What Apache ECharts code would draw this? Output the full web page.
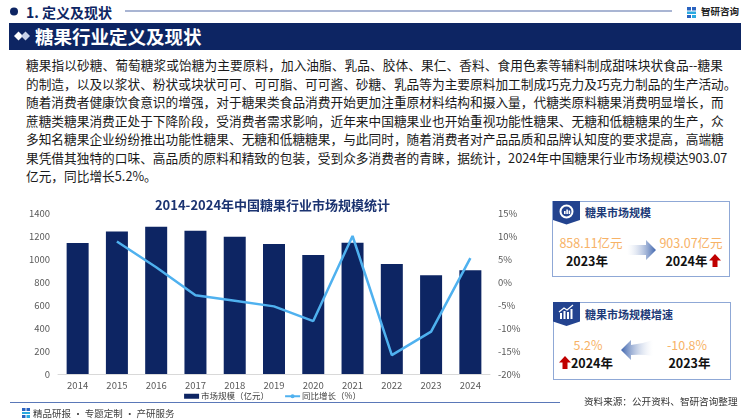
<!DOCTYPE html>
<html><head><meta charset="utf-8">
<script src="https://cdn.jsdelivr.net/npm/echarts@6/dist/echarts.min.js"></script>
<style>
html,body{margin:0;padding:0;background:#fff;}
body{width:750px;height:420px;position:relative;overflow:hidden;font-family:"Noto Sans CJK SC","Noto Sans",sans-serif;}
.abs{position:absolute;white-space:nowrap;}
.line{position:absolute;left:26px;width:697px;font-size:12.7px;color:#1a1a1a;white-space:nowrap;text-align:justify;text-align-last:justify;line-height:18px;}
.line.last{text-align-last:left;}
.box{position:absolute;border:1px solid #8fa8d6;background:#fff;}
.ptitle{position:absolute;font-size:11px;font-weight:bold;color:#203a78;}
.num{position:absolute;font-size:12.5px;color:#f7b266;transform:translateX(-50%);white-space:nowrap;line-height:14px;}
.yr{position:absolute;font-size:12.5px;font-weight:bold;color:#111;transform:translateX(-50%);white-space:nowrap;line-height:14px;}
</style></head>
<body>
<!-- header -->
<svg class="abs" style="left:0;top:0" width="750" height="60">
  <circle cx="14" cy="11.5" r="4" fill="#0d2563"/>
  <line x1="125" y1="11" x2="672" y2="11" stroke="#8d9cc5" stroke-width="1.6"/>
  <rect x="687" y="7" width="4" height="3.5" fill="#2a63c0"/>
  <rect x="692" y="7" width="4" height="3.5" fill="#2a63c0"/>
  <rect x="687" y="11.5" width="9" height="2.5" fill="#2aa9e0"/>
  <rect x="687" y="15" width="4" height="3" fill="#2a63c0"/>
  <rect x="692" y="15" width="4" height="3" fill="#2aa9e0"/>
  <rect x="9" y="23" width="732" height="27" fill="#0d2563"/>
  <path d="M14 36 L18.5 31.5 L23 36 L18.5 40.5 Z" fill="#fff"/>
  <path d="M21 36 L25.5 31.5 L30 36 L25.5 40.5 Z" fill="#c9d3ea"/>
</svg>
<div class="abs" style="left:26px;top:2px;font-size:14px;font-weight:bold;color:#0d2563;line-height:20px;">1. 定义及现状</div>
<div class="abs" style="left:701px;top:4px;font-size:9.5px;font-weight:bold;color:#222;line-height:14px;">智研咨询</div>
<div class="abs" style="left:35px;top:24px;font-size:18.5px;font-weight:bold;color:#fff;line-height:25px;">糖果行业定义及现状</div>

<!-- body text -->
<div class="line" style="top:56px">糖果指以砂糖、葡萄糖浆或饴糖为主要原料，加入油脂、乳品、胶体、果仁、香料、食用色素等辅料制成甜味块状食品--糖果</div>
<div class="line" style="top:74.5px">的制造，以及以浆状、粉状或块状可可、可可脂、可可酱、砂糖、乳品等为主要原料加工制成巧克力及巧克力制品的生产活动。</div>
<div class="line" style="top:93px">随着消费者健康饮食意识的增强，对于糖果类食品消费开始更加注重原材料结构和摄入量，代糖类原料糖果消费明显增长，而</div>
<div class="line" style="top:111.5px">蔗糖类糖果消费正处于下降阶段，受消费者需求影响，近年来中国糖果业也开始重视功能性糖果、无糖和低糖糖果的生产，众</div>
<div class="line" style="top:130px">多知名糖果企业纷纷推出功能性糖果、无糖和低糖糖果，与此同时，随着消费者对产品品质和品牌认知度的要求提高，高端糖</div>
<div class="line" style="top:148.5px">果凭借其独特的口味、高品质的原料和精致的包装，受到众多消费者的青睐，据统计，2024年中国糖果行业市场规模达903.07</div>
<div class="line last" style="top:167px">亿元，同比增长5.2%。</div>

<!-- chart -->
<div id="chart" style="position:absolute;left:0;top:190px;width:545px;height:230px;"></div>

<!-- panel 1 -->
<div class="box" style="left:552px;top:201px;width:176px;height:74px;"></div>
<svg class="abs" style="left:552px;top:201px" width="30" height="26">
  <path d="M1 0 L28 0 L28 19 L14.5 23.5 L1 19 Z" fill="#23438f"/>
  <circle cx="14.5" cy="10.5" r="6" fill="none" stroke="#fff" stroke-width="2"/>
  <rect x="12" y="10" width="1.6" height="3" fill="#fff"/><rect x="14.3" y="8.5" width="1.6" height="4.5" fill="#fff"/><rect x="16.6" y="9.5" width="1.6" height="3.5" fill="#fff"/>
</svg>
<div class="ptitle" style="left:585px;top:204px;line-height:16px;">糖果市场规模</div>
<div class="num" style="left:591px;top:236px;">858.11亿元</div>
<div class="yr" style="left:587px;top:254px;">2023年</div>
<svg class="abs" style="left:626px;top:238px" width="32" height="24">
  <defs><linearGradient id="g1" x1="0" x2="1" y1="0" y2="0"><stop offset="0" stop-color="#ffffff" stop-opacity="0.2"/><stop offset="1" stop-color="#3e64ad"/></linearGradient></defs>
  <path d="M1 7 L20 7 L20 2 L30 12 L20 22 L20 17 L1 17 Z" fill="url(#g1)"/>
</svg>
<div class="num" style="left:691px;top:236px;">903.07亿元</div>
<div class="yr" style="left:686.5px;top:254px;">2024年</div>
<svg class="abs" style="left:709px;top:254px" width="12" height="14">
  <path d="M6 0 L12 6.5 L8.5 6.5 L8.5 13 L3.5 13 L3.5 6.5 L0 6.5 Z" fill="#c00000"/>
</svg>

<!-- panel 2 -->
<div class="box" style="left:553px;top:302px;width:176px;height:76px;"></div>
<svg class="abs" style="left:553px;top:302px" width="30" height="26">
  <path d="M0 0 L27 0 L27 19.5 L13.5 24 L0 19.5 Z" fill="#23438f"/>
  <rect x="7" y="11" width="2" height="6" fill="#fff"/><rect x="10.5" y="9" width="2" height="8" fill="#fff"/><rect x="14" y="10" width="2" height="7" fill="#fff"/><rect x="17.5" y="7" width="2" height="10" fill="#fff"/>
  <path d="M6 10 L11 6 L14 8 L20 3" stroke="#fff" stroke-width="1.2" fill="none"/>
</svg>
<div class="ptitle" style="left:585px;top:306px;line-height:16px;">糖果市场规模增速</div>
<div class="num" style="left:588px;top:338px;">5.2%</div>
<svg class="abs" style="left:559px;top:356px" width="12" height="14">
  <path d="M6 0 L12 6.5 L8.5 6.5 L8.5 13 L3.5 13 L3.5 6.5 L0 6.5 Z" fill="#c00000"/>
</svg>
<div class="yr" style="left:592px;top:356px;">2024年</div>
<svg class="abs" style="left:620px;top:337px" width="34" height="26">
  <defs><linearGradient id="g2" x1="0" x2="1" y1="0" y2="0"><stop offset="0" stop-color="#3e64ad"/><stop offset="1" stop-color="#ffffff" stop-opacity="0.2"/></linearGradient></defs>
  <path d="M1 13 L11 3 L11 8 Q22 7 33 3 L33 19 Q22 17 11 18 L11 23 Z" fill="url(#g2)"/>
</svg>
<div class="num" style="left:687px;top:338px;">-10.8%</div>
<div class="yr" style="left:689.5px;top:356px;">2023年</div>

<!-- footer -->
<svg class="abs" style="left:0;top:398px" width="750" height="22">
  <line x1="10" y1="4.5" x2="560" y2="4.5" stroke="#5a78b8" stroke-width="1.2"/>
  <rect x="22" y="10" width="3.5" height="3" fill="#2a63c0"/><rect x="26.5" y="10" width="3.5" height="3" fill="#2a63c0"/>
  <rect x="22" y="14" width="8" height="2" fill="#2aa9e0"/>
  <rect x="22" y="17" width="3.5" height="3" fill="#2a63c0"/><rect x="26.5" y="17" width="3.5" height="3" fill="#2aa9e0"/>
</svg>
<div class="abs" style="left:33px;top:406px;font-size:9.5px;color:#404040;line-height:14px;">精品研报 · 专题定制 · 产研服务</div>
<div class="abs" style="left:584px;top:394px;font-size:9.6px;color:#333;line-height:14px;">资料来源：公开资料、智研咨询整理</div>

<script>
const years = ['2014','2015','2016','2017','2018','2019','2020','2021','2022','2023','2024'];
const marketSize = [1140, 1240, 1281, 1246, 1194, 1130, 1035, 1142, 956, 858.11, 903.07];
const yoyGrowth = [null, 8.8, 3.2, -2.9, -4.1, -5.3, -8.5, 10.0, -15.9, -10.8, 5.2];
const leftTicks = {min: 0, max: 1400, interval: 200};
const rightTicks = {min: -20, max: 15, interval: 5};

const chart = echarts.init(document.getElementById('chart'), null, {renderer: 'canvas'});
const font = '"Noto Sans CJK SC","Noto Sans",sans-serif';
chart.setOption({
  animation: false,
  title: {
    text: '2014-2024年中国糖果行业市场规模统计',
    left: 'center', top: 4,
    textStyle: {fontSize: 13, fontWeight: 'bold', color: '#1b3371', fontFamily: font}
  },
  grid: {left: 58, right: 55, top: 23, bottom: 46, containLabel: false},
  legend: {
    top: 197, left: 'center', itemGap: 15, itemWidth: 15, itemHeight: 5,
    textStyle: {fontSize: 8.5, color: '#404040', fontFamily: font, padding: [0,0,0,-3]},
    data: [{name: '市场规模（亿元）', icon: 'rect'}, {name: '同比增长（%）'}]
  },
  xAxis: {
    type: 'category', data: years,
    axisLine: {lineStyle: {color: '#d9d9d9'}},
    axisTick: {show: false},
    axisLabel: {fontSize: 9.5, color: '#595959', margin: 7, fontFamily: font}
  },
  yAxis: [
    {type: 'value', min: leftTicks.min, max: leftTicks.max, interval: leftTicks.interval,
     splitLine: {show: false}, axisLine: {show: false}, axisTick: {show: false},
     axisLabel: {fontSize: 9.5, color: '#595959', margin: 8, fontFamily: font,
                 formatter: function (v) { return String(v); }}},
    {type: 'value', min: rightTicks.min, max: rightTicks.max, interval: rightTicks.interval,
     splitLine: {show: false}, axisLine: {show: false}, axisTick: {show: false},
     axisLabel: {fontSize: 9.5, color: '#595959', margin: 8, formatter: '{value}%', fontFamily: font}}
  ],
  series: [
    {name: '市场规模（亿元）', type: 'bar', data: marketSize, barWidth: 22,
     itemStyle: {color: '#0d2563'}},
    {name: '同比增长（%）', type: 'line', yAxisIndex: 1, data: yoyGrowth,
     symbol: 'none', connectNulls: false,
     lineStyle: {color: '#4fb1ef', width: 2.5}, itemStyle: {color: '#4fb1ef'}}
  ]
});
</script>
</body></html>
